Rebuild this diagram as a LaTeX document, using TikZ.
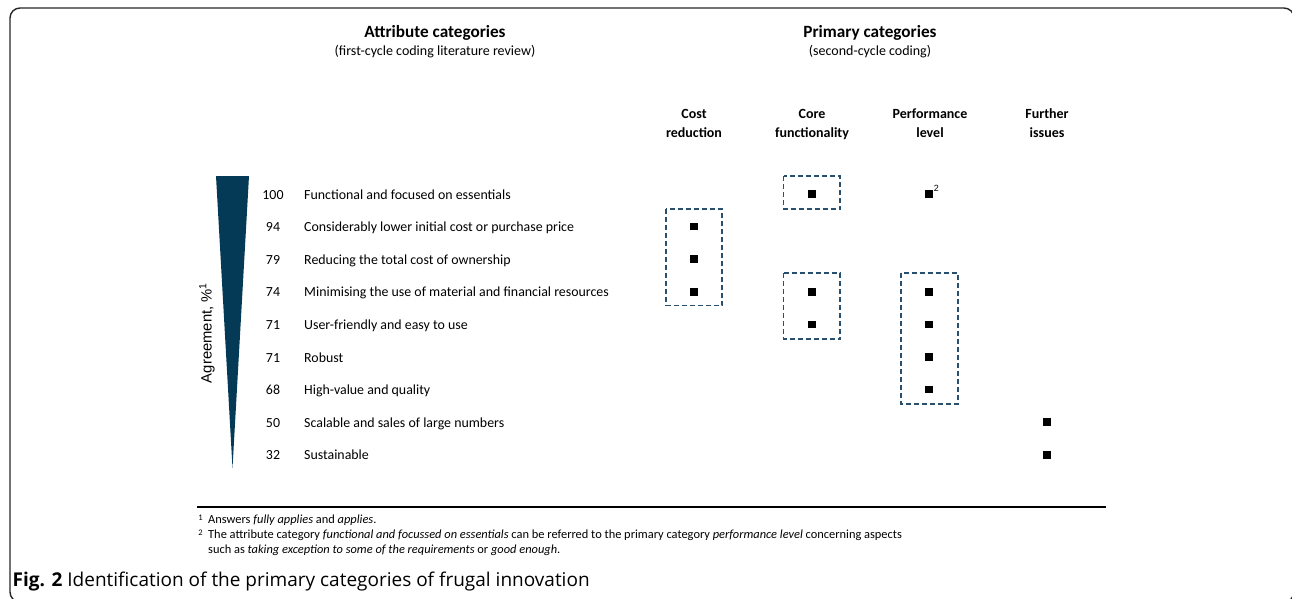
\documentclass[tikz,border=0pt]{standalone}
\usepackage{fontspec}
\setmainfont{Carlito}
\newfontfamily\armfont{Liberation Sans}
\newfontfamily\capfont{Open Sans}
\usetikzlibrary{positioning}
\definecolor{navy}{RGB}{4,58,86}
\definecolor{boxblue}{RGB}{40,80,110}
\tikzset{
  frame/.style={draw=black!85, line width=1.4pt, rounded corners=10pt},
  head/.style={font=\fontsize{17.2}{20}\selectfont\bfseries, align=center, anchor=base},
  sub/.style={font=\fontsize{14}{16}\selectfont, align=center, anchor=base},
  colhead/.style={font=\fontsize{14}{19}\selectfont\bfseries, align=center, anchor=base},
  num/.style={font=\fontsize{13.9}{15}\selectfont, anchor=base},
  lbl/.style={font=\fontsize{13.9}{15}\selectfont, anchor=base west, inner sep=0pt},
  mark box/.style={fill=black, minimum size=7.5pt, inner sep=0pt},
  group/.style={draw=boxblue, line width=1.2pt, dash pattern=on 5pt off 3pt},
  foot/.style={font=\fontsize{12.4}{15}\selectfont, anchor=base west, inner sep=0pt},
  fnmark/.style={font=\fontsize{8.5}{9}\selectfont, inner sep=0pt, anchor=base},
}
\begin{document}
\begin{tikzpicture}[x=1pt,y=-1pt]
\useasboundingbox (0,0) rectangle (1292,599);
\clip (0,0) rectangle (1292,599);
% outer frame (right and bottom edges fall outside the page)
\draw[frame] (10,8) rectangle (1294,602);

% headings
\node[head] (ah) at (435,38) {Attribute categories};
\node[sub]  (as) at (435,55.5) {(first-cycle coding literature review)};
\node[head] (ph) at (870,38) {Primary categories};
\node[sub]  (ps) at (870,55.5) {(second-cycle coding)};

% column headings (base anchor sits on the second line)
\node[colhead] (c1) at (694,138) {Cost\\reduction};
\node[colhead] (c2) at (812,138) {Core\\functionality};
\node[colhead] (c3) at (930,138) {Performance\\level};
\node[colhead] (c4) at (1047,138) {Further\\issues};

% agreement wedge
\fill[navy] (216,176) -- (249,176) -- (232.5,468) -- cycle;
\node[rotate=90, font=\armfont\fontsize{14.8}{16}\selectfont] (ag) at (207,333) {Agreement, \%\textsuperscript{1}};

% rows
\foreach \n/\v/\t [count=\i from 0] in {
  r1/100/Functional and focused on essentials,
  r2/94/Considerably lower initial cost or purchase price,
  r3/79/Reducing the total cost of ownership,
  r4/74/Minimising the use of material and financial resources,
  r5/71/User-friendly and easy to use,
  r6/71/Robust,
  r7/68/High-value and quality,
  r8/50/Scalable and sales of large numbers,
  r9/32/Sustainable}{
  \pgfmathsetmacro\yy{199+32.6*\i}
  \node[num] (\n n) at (273,\yy) {\v};
  \node[lbl] (\n t) at (304,\yy) {\t};
}

% markers
\foreach \n/\x/\i in {m12/812/0, m13/929/0,
  m21/694/1, m31/694/2, m41/694/3, m42/812/3, m43/929/3,
  m52/812/4, m53/929/4, m63/929/5, m73/929/6, m84/1047/7, m94/1047/8}{
  \pgfmathsetmacro\yy{194+32.6*\i}
  \node[mark box] (\n) at (\x,\yy) {};
}
\node[font=\armfont\fontsize{9}{10}\selectfont, inner sep=0pt, anchor=south west] (fn2) at ([xshift=0.8pt,yshift=-1.5pt]m13.north east) {2};

% groupings
\draw[group] (666,209) rectangle (722,305.5);
\draw[group] (783.5,176) rectangle (840,209);
\draw[group] (783.5,273) rectangle (840,339);
\draw[group] (901,273) rectangle (958,404);

% footnotes
\draw[line width=2pt] (197,507) coordinate (rl) -- (1106,507) coordinate (rr);
\node[foot] (f1) at (208,523) {Answers \textit{fully applies} and \textit{applies}.};
\node[foot] (f2) at (208,538) {The attribute category \textit{functional and focussed on essentials} can be referred to the primary category \textit{performance level} concerning aspects};
\node[foot] (f3) at (208,553) {such as \textit{taking exception to some of the requirements} or \textit{good enough}.};
\node[fnmark] (s1) at (200.5,520) {1};
\node[fnmark] (s2) at (200.5,535) {2};

% caption
\node[font=\capfont\fontsize{19}{22}\selectfont, anchor=base west, inner sep=0pt] (cap) at (12.5,586) {\textbf{Fig. 2} Identification of the primary categories of frugal innovation};
\end{tikzpicture}
\end{document}
